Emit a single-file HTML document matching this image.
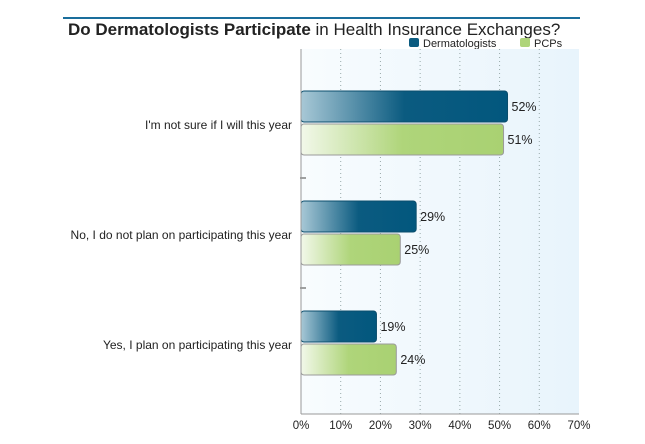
<!DOCTYPE html>
<html><head><meta charset="utf-8"><style>
body{margin:0;background:#fff;font-family:"Liberation Sans",sans-serif;}
svg text{font-family:"Liberation Sans",sans-serif;}
</style></head><body>
<svg width="645" height="439" xmlns="http://www.w3.org/2000/svg">
<defs>
<linearGradient id="bg" x1="0" x2="1"><stop offset="0" stop-color="#f8fcfe"/><stop offset="1" stop-color="#e8f4fc"/></linearGradient>
<linearGradient id="gd" x1="0" x2="1"><stop offset="0" stop-color="#a8c8d6"/><stop offset="0.5" stop-color="#0b5b80"/><stop offset="1" stop-color="#02577e"/></linearGradient>
<linearGradient id="gp" x1="0" x2="1"><stop offset="0" stop-color="#f2f8ea"/><stop offset="0.5" stop-color="#afd57a"/><stop offset="1" stop-color="#a9d172"/></linearGradient>
</defs>
<line x1="63" y1="18" x2="580" y2="18" stroke="#1a6e9c" stroke-width="2"/>
<text x="68" y="35" font-size="17" fill="#222"><tspan font-weight="bold">Do Dermatologists Participate</tspan> in Health Insurance Exchanges?</text>
<rect x="409" y="38" width="10" height="9" rx="2" fill="#0b5b80"/>
<text x="423" y="47" font-size="11" fill="#222">Dermatologists</text>
<rect x="520" y="38" width="10" height="9" rx="2" fill="#afd57a"/>
<text x="534" y="47" font-size="11" fill="#222">PCPs</text>
<rect x="301" y="49" width="278" height="365" fill="url(#bg)"/>
<g id="grid"></g><g id="bars"></g><g id="labels"></g>
<line x1="301" y1="49" x2="301" y2="414" stroke="#999"/>
<line x1="301" y1="414" x2="579" y2="414" stroke="#999"/>
</svg>
<script>
const categories=["I'm not sure if I will this year","No, I do not plan on participating this year","Yes, I plan on participating this year"];
const derm=[52,29,19];
const pcp=[51,25,24];
const ticks=[0,10,20,30,40,50,60,70];
const NS="http://www.w3.org/2000/svg";
const x0=301,x1=579,max=70;
const xs=v=>x0+(x1-x0)*v/max;
const gTop=70,gStep=110;
function mk(t,a,p){const e=document.createElementNS(NS,t);for(const k in a)e.setAttribute(k,a[k]);document.getElementById(p).appendChild(e);return e;}
ticks.forEach(t=>{
 if(t>0&&t<max){const l=mk('line',{x1:xs(t),x2:xs(t),y1:49,y2:414,stroke:'#9aa','stroke-dasharray':'1,3'},'grid');
 
 }
 const tx=mk('text',{x:xs(t),y:429,'font-size':11.5,fill:'#222','text-anchor':'middle'},'labels');
 
 
 tx.textContent=t+'%';
});
categories.forEach((c,i)=>{
 const top=gTop+i*gStep+21;
 const ct=mk('text',{x:292,y:top+38,'font-size':12,fill:'#222','text-anchor':'end'},'labels');
 
 
 ct.textContent=c;
 if(i>0){const tk=mk('line',{x1:300,x2:306,y1:top-23,y2:top-23,stroke:'#444'},'grid');
 
 }
 [[derm[i],'url(#gd)','#0a4d6c',0,'bar-dermatologists'],[pcp[i],'url(#gp)','#9a9a9a',33,'bar-pcps']].forEach(([v,f,s,dy,n])=>{
  const r=mk('rect',{x:x0,y:top+dy,width:xs(v)-x0,height:31,rx:3,fill:f,stroke:s,'stroke-width':1},'bars');
  
  
  const vt=mk('text',{x:xs(v)+4,y:top+dy+20,'font-size':12.5,fill:'#222'},'labels');
  
  
  vt.textContent=v+'%';
 });
});
</script>
</body></html>
